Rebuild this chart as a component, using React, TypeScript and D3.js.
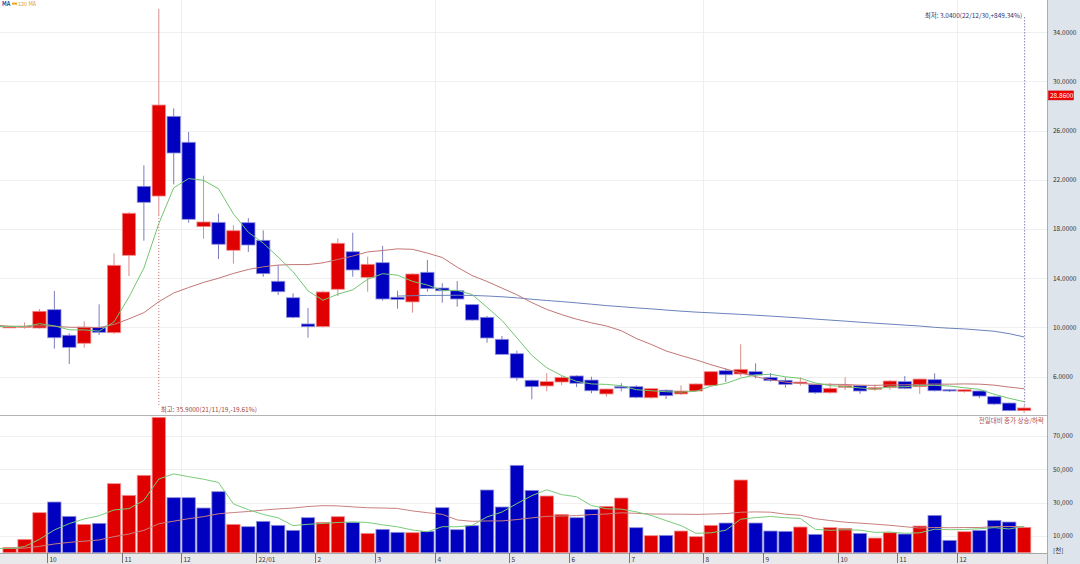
import React from 'react';
import * as d3 from 'd3';

// ---- data (weekly, Friday dates) ----
const dates = [
  '2021-09-10','2021-09-17','2021-09-24','2021-10-01','2021-10-08','2021-10-15','2021-10-22','2021-10-29',
  '2021-11-05','2021-11-12','2021-11-19','2021-11-26','2021-12-03','2021-12-10','2021-12-17','2021-12-24','2021-12-31',
  '2022-01-07','2022-01-14','2022-01-21','2022-01-28','2022-02-04','2022-02-11','2022-02-18','2022-02-25',
  '2022-03-04','2022-03-11','2022-03-18','2022-03-25','2022-04-01','2022-04-08','2022-04-15','2022-04-22','2022-04-29',
  '2022-05-06','2022-05-13','2022-05-20','2022-05-27','2022-06-03','2022-06-10','2022-06-17','2022-06-24',
  '2022-07-01','2022-07-08','2022-07-15','2022-07-22','2022-07-29','2022-08-05','2022-08-12','2022-08-19','2022-08-26',
  '2022-09-02','2022-09-09','2022-09-16','2022-09-23','2022-09-30','2022-10-07','2022-10-14','2022-10-21','2022-10-28',
  '2022-11-04','2022-11-11','2022-11-18','2022-11-25','2022-12-02','2022-12-09','2022-12-16','2022-12-23','2022-12-30',
];
const opens = [10.02,10.06,9.95,11.44,9.36,8.71,10.01,9.57,15.86,21.47,20.68,27.16,25.05,18.19,18.54,16.27,18.51,17.08,13.75,12.41,10.28,10.06,13.1,16.15,14.07,15.26,12.45,12.07,14.48,13.2,12.98,11.85,10.82,9.03,7.86,5.7,5.24,5.56,6.05,5.72,4.59,5.18,5.18,4.28,4.89,4.59,4.83,5.29,6.48,6.21,6.4,5.94,5.7,5.46,5.37,4.69,5.13,5.26,4.97,5.1,5.59,5.18,5.75,4.93,4.8,4.83,4.37,3.85,3.23];
const highs = [10.12,10.4,11.5,12.96,9.52,10.5,11.88,16.02,19.36,23.18,35.9,27.81,25.89,22.33,19.24,18.3,18.89,17.89,15.07,12.77,11.58,12.98,17.24,17.7,15.75,16.62,12.98,14.4,15.48,13.59,13.77,11.9,10.93,9.3,8.11,5.75,6.27,6.05,6.1,5.99,5.0,5.46,5.3,5.05,4.95,5.29,5.45,6.45,6.67,8.63,7.08,6.3,5.94,5.94,5.4,5.46,5.94,5.3,5.35,5.72,6.05,5.82,6.27,4.97,4.97,4.85,4.45,3.88,3.63];
const lows = [9.98,9.9,9.9,8.27,7.02,8.35,9.38,9.46,14.18,17.05,19.14,21.63,18.51,17.21,15.56,15.18,16.13,14.12,12.63,10.74,9.16,10.0,12.55,14.12,12.9,12.17,11.52,11.2,12.9,12.01,11.68,10.55,8.76,7.76,5.67,4.15,4.8,5.3,5.15,4.64,4.37,4.8,4.24,4.2,4.18,4.5,4.8,5.2,5.56,6.0,5.86,5.6,5.1,5.27,4.6,4.6,4.91,4.6,4.85,4.92,4.97,4.59,4.8,4.75,4.7,4.25,3.7,3.2,3.04];
const closes = [10.06,10.1,11.31,9.16,8.38,10.03,9.6,15.05,19.28,20.17,28.08,24.18,18.79,18.57,16.76,17.86,16.7,14.37,12.9,10.82,10.06,12.88,16.84,14.67,15.13,12.31,12.28,14.34,13.15,12.98,12.31,10.6,9.14,7.81,5.89,5.18,5.59,5.94,5.46,4.85,4.99,5.07,4.32,5.02,4.45,4.83,5.4,6.4,6.15,6.59,6.13,5.67,5.37,5.56,4.69,5.05,5.26,4.83,5.1,5.64,5.05,5.8,4.85,4.83,4.93,4.42,3.77,3.23,3.45];
const volumes = [3200,8000,24000,30400,21800,17000,17600,41400,34400,46400,81200,33000,33000,26800,36600,17000,15600,18800,16400,13400,21000,18200,21600,18200,11600,14000,12200,12000,12800,27000,13800,16200,37600,27400,52400,37400,34000,23000,21000,26000,27800,32800,15000,10200,10400,13000,9600,16400,17800,43600,17800,13000,12800,15400,11000,15000,14600,11600,8800,12000,11200,16000,22400,7400,12600,13400,19400,18400,15200];
// weeks before the visible window (only feed the moving averages)
const priorCloses = [12.6,12.1,12.4,11.9,11.5,11.8,11.6,11.2,11.9,11.7,11.4,11.6,11.3,11.8,10.4,10.2,9.9,10.1,10.3,10.0,9.8,10.2,10.1,10.3,10.0,9.9,10.2,10.1,10.0,10.2,10.1,10.05,10.0];
const priorVolumes = [2100,2800,2500,1900,2600,3000,2200,2400,2700,2000,2300,2600,2500,2200,2400,2800,2100,2300,2600];

const priceTicks = [6, 10, 14, 18, 22, 26, 30, 34];
const volumeTicks = [10000, 30000, 50000, 70000];
const currentPrice = 28.86;
const highIndex = 10;
const lowIndex = 68;
const highLabel = '최고: 35.9000(21/11/19,-19.61%)';
const lowLabel = '최저: 3.0400(22/12/30,+849.34%)';
const volumeLegend = '전일대비 종가 상승/하락';

// ---- layout / style ----
const W = 1080, H = 564;
const PLOT_R = 1047;
const P_TOP = 0, P_BOT = 415;
const V_TOP = 416, V_BOT = 553;
const FONT = "'Noto Sans CJK KR', 'Liberation Sans', sans-serif";
const UP = '#e00000', UP_EDGE = '#f08f8f', UP_WICK = '#d88c8c';
const DN = '#0000c0', DN_EDGE = '#8f8fd8', DN_WICK = '#7c7cbc';
const GRID = '#efefef';

function movingAverage(all: number[], offset: number, n: number, from: number, to: number) {
  const out: [number, number | null][] = [];
  for (let i = from; i <= to; i++) {
    const end = offset + i;
    const start = end - n + 1;
    out.push([i, start < 0 ? null : d3.mean(all.slice(start, end + 1)) as number]);
  }
  return out;
}

export default function App() {
  const n = dates.length;
  const x = d3.scaleLinear().domain([-0.5, n - 0.5]).range([2.14, 2.14 + n * 14.92]);
  const step = x(1) - x(0);
  const bw = step - 1.6;
  const yP = d3.scaleLinear().domain([2, 34]).range([425.8, 32.2]);
  const yV = d3.scaleLinear().domain([0, 70000]).range([552.7, 436]);
  const parse = d3.timeParse('%Y-%m-%d');
  const parsed = dates.map((d) => parse(d) as Date);

  const monthTicks: { i: number; label: string; month: number }[] = [];
  for (let i = 1; i < n; i++) {
    const m = parsed[i].getMonth();
    if (m !== parsed[i - 1].getMonth()) {
      const label = m === 0 ? d3.timeFormat('%y/%m')(parsed[i]) : String(m + 1);
      monthTicks.push({ i, label, month: m + 1 });
    }
  }
  const gridTicks = monthTicks.filter((t) => t.month % 4 === 0);

  const allCloses = priorCloses.concat(closes);
  const allVols = priorVolumes.concat(volumes);
  const ma5 = movingAverage(allCloses, priorCloses.length, 5, -1, n - 1);
  const ma20 = movingAverage(allCloses, priorCloses.length, 20, -1, n - 1);
  const ma60 = movingAverage(allCloses, priorCloses.length, 60, -1, n - 1);
  const vma5 = movingAverage(allVols, priorVolumes.length, 5, -1, n - 1);
  const vma20 = movingAverage(allVols, priorVolumes.length, 20, -1, n - 1);

  const lineP = d3.line<[number, number | null]>()
    .defined((d) => d[1] != null)
    .x((d) => x(d[0]))
    .y((d) => yP(d[1] as number));
  const lineV = d3.line<[number, number | null]>()
    .defined((d) => d[1] != null)
    .x((d) => x(d[0]))
    .y((d) => yV(d[1] as number));

  const fmtP = d3.format('.4f');
  const fmtV = d3.format(',');

  return (
    <svg width={W} height={H} style={{ position: 'absolute', left: 0, top: 0, background: '#fff' }} fontFamily={FONT}>
      <defs>
        <clipPath id="clipP"><rect x={0} y={P_TOP} width={PLOT_R} height={P_BOT - P_TOP} /></clipPath>
        <clipPath id="clipV"><rect x={0} y={V_TOP} width={PLOT_R} height={V_BOT - V_TOP} /></clipPath>
      </defs>

      {/* grids */}
      {priceTicks.map((t) => (
        <line key={'pg' + t} x1={0} x2={PLOT_R} y1={Math.round(yP(t)) + 0.5} y2={Math.round(yP(t)) + 0.5} stroke={GRID} />
      ))}
      {volumeTicks.map((t) => (
        <line key={'vg' + t} x1={0} x2={PLOT_R} y1={Math.round(yV(t)) + 0.5} y2={Math.round(yV(t)) + 0.5} stroke={GRID} />
      ))}
      {gridTicks.map((t) => (
        <line key={'xg' + t.i} x1={Math.round(x(t.i) - step / 2) + 0.5} x2={Math.round(x(t.i) - step / 2) + 0.5} y1={0} y2={V_BOT} stroke={GRID} />
      ))}

      {/* price panel */}
      <g clipPath="url(#clipP)">
        {dates.map((d, i) => {
          const up = closes[i] >= opens[i];
          const top = yP(Math.max(opens[i], closes[i]));
          const bot = yP(Math.min(opens[i], closes[i]));
          return (
            <g key={'c' + d}>
              <line x1={x(i)} x2={x(i)} y1={yP(highs[i])} y2={yP(lows[i])} stroke={up ? UP_WICK : DN_WICK} strokeWidth={1} />
              <rect x={x(i) - bw / 2} y={top} width={bw} height={Math.max(1.2, bot - top)}
                fill={up ? UP : DN} stroke={up ? UP_EDGE : DN_EDGE} strokeWidth={0.8} />
            </g>
          );
        })}
        <path d={lineP(ma60) || ''} fill="none" stroke="#6c82bd" strokeWidth={1} />
        <path d={lineP(ma20) || ''} fill="none" stroke="#c27676" strokeWidth={1} />
        <path d={lineP(ma5) || ''} fill="none" stroke="#72c672" strokeWidth={1} />
        {/* high marker */}
        <line x1={x(highIndex)} x2={x(highIndex)} y1={yP(lows[highIndex])} y2={407} stroke="#d07070" strokeDasharray="1,2" />
        {/* low marker */}
        <line x1={x(lowIndex) + 0.5} x2={x(lowIndex) + 0.5} y1={17} y2={yP(highs[lowIndex])} stroke="#8484b4" strokeDasharray="1.5,1.5" />
      </g>
      <text x={x(highIndex) + 2} y={412} fontSize={6.5} fill="#a04848">{highLabel}</text>
      <text x={x(lowIndex) - 2} y={17.5} fontSize={6.5} fill="#34346e" textAnchor="end">{lowLabel}</text>

      {/* legend */}
      <text x={2} y={5.8} fontSize={5.5} fill="#2a4a9a" fontWeight="bold">MA</text>
      <line x1={12} x2={17} y1={3.6} y2={3.6} stroke="#f0a020" strokeWidth={2} />
      <text x={18} y={5.8} fontSize={5.5} fill="#e0a030">120 MA</text>

      {/* separator */}
      <line x1={0} x2={PLOT_R} y1={P_BOT + 0.5} y2={P_BOT + 0.5} stroke="#b4b4b4" />
      <text x={PLOT_R - 3} y={422.5} fontSize={6.5} fill="#b05050" textAnchor="end">{volumeLegend}</text>

      {/* volume panel */}
      <g clipPath="url(#clipV)">
        {dates.map((d, i) => {
          const prev = i === 0 ? priorCloses[priorCloses.length - 1] : closes[i - 1];
          const up = closes[i] > prev;
          return (
            <rect key={'v' + d} x={x(i) - bw / 2} y={yV(volumes[i])} width={bw} height={yV(0) - yV(volumes[i])}
              fill={up ? UP : DN} stroke={up ? UP_EDGE : DN_EDGE} strokeWidth={0.8} />
          );
        })}
        <path d={lineV(vma20) || ''} fill="none" stroke="#c88080" strokeWidth={1} />
        <path d={lineV(vma5) || ''} fill="none" stroke="#7acc7a" strokeWidth={1} />
      </g>

      {/* x axis strip */}
      <rect x={0} y={V_BOT} width={PLOT_R} height={H - V_BOT} fill="#e9e9ec" />
      <line x1={0} x2={PLOT_R} y1={V_BOT + 0.5} y2={V_BOT + 0.5} stroke="#a8a8a8" />
      {monthTicks.map((t) => {
        const tx = Math.round(x(t.i) - step / 2) + 0.5;
        return (
          <g key={'mt' + t.i}>
            <line x1={tx} x2={tx} y1={V_BOT} y2={H - 1} stroke="#777" />
            <text x={tx + 2} y={561.5} fontSize={6.5} fill="#333">{t.label}</text>
          </g>
        );
      })}

      {/* right axis */}
      <rect x={PLOT_R} y={0} width={W - PLOT_R} height={H} fill="#dde4ec" />
      <line x1={PLOT_R + 0.5} x2={PLOT_R + 0.5} y1={0} y2={H} stroke="#a4acb6" />
      {priceTicks.map((t) => (
        <text key={'pl' + t} x={1053} y={yP(t) + 2.3} fontSize={6.5} fill="#333">{fmtP(t)}</text>
      ))}
      <rect x={1048.5} y={yP(currentPrice) - 4.5} width={25} height={9} fill="#f00000" stroke="#c00000" strokeWidth={0.5} />
      <text x={1050} y={yP(currentPrice) + 2.3} fontSize={6.5} fill="#fff">{fmtP(currentPrice)}</text>
      {volumeTicks.map((t) => (
        <text key={'vl' + t} x={1053} y={yV(t) + 2.3} fontSize={6.5} fill="#333">{fmtV(t)}</text>
      ))}
      <text x={1053} y={552.5} fontSize={6.5} fill="#333">[천]</text>
    </svg>
  );
}
